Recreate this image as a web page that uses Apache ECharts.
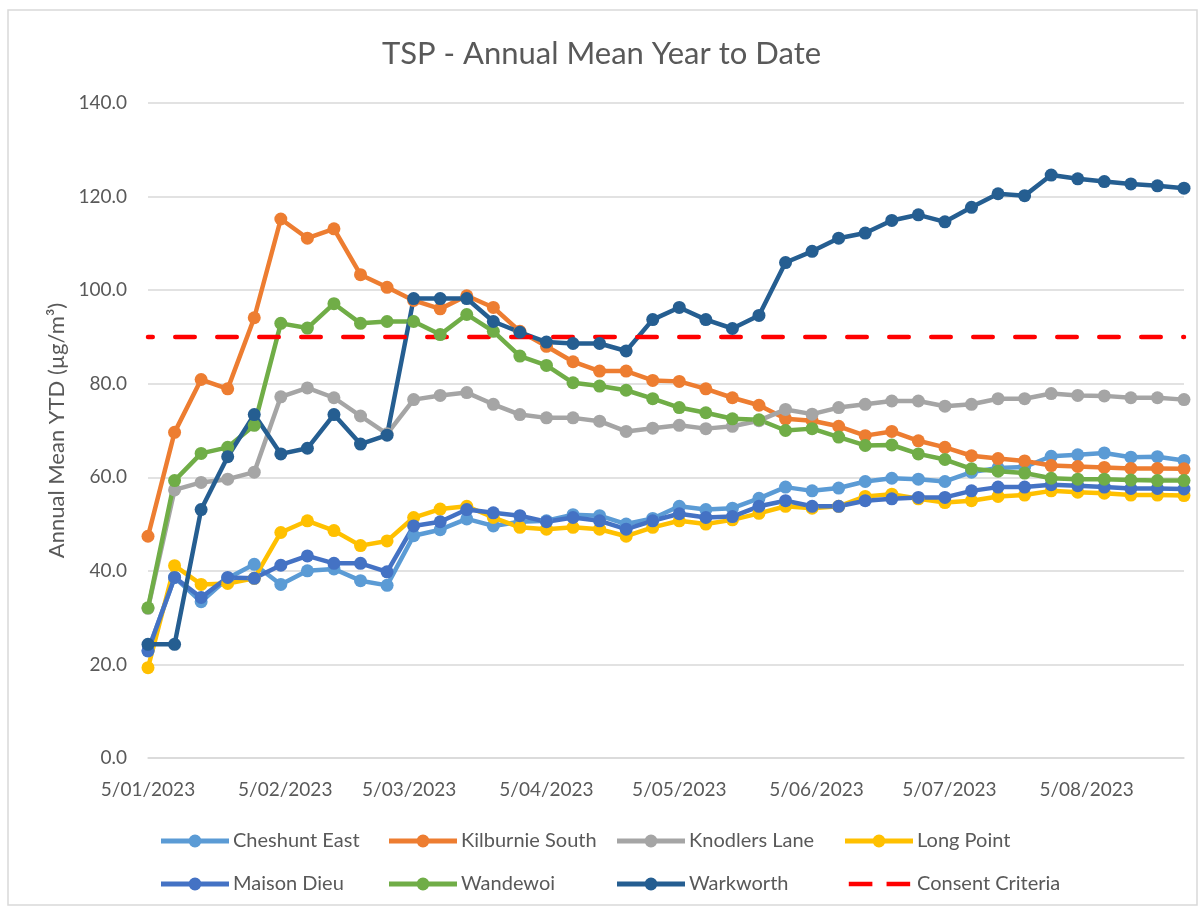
<!DOCTYPE html>
<html>
<head>
<meta charset="utf-8">
<script src="https://cdn.jsdelivr.net/npm/echarts@6/dist/echarts.min.js"></script>
<style>
  html, body { margin: 0; padding: 0; background: #ffffff; }
  #chart { width: 1203px; height: 910px; }
</style>
</head>
<body>
<div id="chart"></div>
<script>
const dates = [
  '2023-01-05','2023-01-11','2023-01-17','2023-01-23','2023-01-29',
  '2023-02-04','2023-02-10','2023-02-16','2023-02-22','2023-02-28',
  '2023-03-06','2023-03-12','2023-03-18','2023-03-24','2023-03-30',
  '2023-04-05','2023-04-11','2023-04-17','2023-04-23','2023-04-29',
  '2023-05-05','2023-05-11','2023-05-17','2023-05-23','2023-05-29',
  '2023-06-04','2023-06-10','2023-06-16','2023-06-22','2023-06-28',
  '2023-07-04','2023-07-10','2023-07-16','2023-07-22','2023-07-28',
  '2023-08-03','2023-08-09','2023-08-15','2023-08-21','2023-08-27'
];
const tickDates = ['2023-01-05','2023-02-05','2023-03-05','2023-04-05','2023-05-05','2023-06-05','2023-07-05','2023-08-05'];
const tickLabels = ['5/01/2023','5/02/2023','5/03/2023','5/04/2023','5/05/2023','5/06/2023','5/07/2023','5/08/2023'];
const axisStart = '2023-01-05';
const axisEnd = '2023-08-27';

const cheshuntEast = [22.9, 38.6, 33.4, 38.4, 41.4, 37.1, 40.0, 40.4, 37.9, 36.9, 47.5, 48.8, 51.1, 49.6, 50.5, 50.7, 52.0, 51.8, 50.0, 51.2, 53.8, 53.1, 53.4, 55.5, 57.9, 57.1, 57.7, 59.1, 59.8, 59.6, 59.1, 61.1, 62.0, 62.2, 64.5, 64.8, 65.2, 64.3, 64.4, 63.6];
const kilburnieSouth = [47.4, 69.6, 80.9, 78.9, 94.1, 115.2, 111.1, 113.1, 103.3, 100.6, 97.8, 96.0, 98.8, 96.3, 91.2, 88.0, 84.7, 82.7, 82.7, 80.7, 80.5, 78.9, 77.0, 75.4, 72.5, 72.1, 70.9, 68.9, 69.8, 67.8, 66.4, 64.6, 64.0, 63.5, 62.5, 62.3, 62.1, 61.9, 61.9, 61.8];
const knodlersLane = [32.0, 57.3, 58.9, 59.6, 61.1, 77.2, 79.1, 77.0, 73.1, 69.3, 76.6, 77.5, 78.1, 75.6, 73.4, 72.7, 72.7, 72.0, 69.8, 70.5, 71.1, 70.4, 70.9, 72.1, 74.5, 73.5, 74.9, 75.6, 76.3, 76.3, 75.2, 75.6, 76.8, 76.8, 77.9, 77.5, 77.4, 77.0, 77.0, 76.6];
const longPoint = [19.3, 41.1, 37.1, 37.3, 38.4, 48.2, 50.7, 48.6, 45.4, 46.4, 51.4, 53.2, 53.8, 51.4, 49.3, 48.9, 49.3, 48.9, 47.4, 49.3, 50.7, 50.0, 50.9, 52.3, 53.8, 53.4, 53.8, 55.9, 56.4, 55.4, 54.6, 55.0, 55.9, 56.2, 57.1, 56.8, 56.6, 56.2, 56.2, 56.1];
const maisonDieu = [22.9, 38.6, 34.3, 38.6, 38.4, 41.2, 43.2, 41.6, 41.6, 39.8, 49.6, 50.5, 53.1, 52.4, 51.8, 50.5, 51.4, 50.7, 48.9, 50.7, 52.2, 51.4, 51.6, 53.8, 55.0, 53.8, 53.8, 55.0, 55.4, 55.7, 55.7, 57.1, 57.9, 57.9, 58.4, 58.2, 57.9, 57.6, 57.6, 57.5];
const wandewoi = [32.1, 59.3, 65.1, 66.4, 71.1, 92.9, 91.9, 97.1, 92.9, 93.3, 93.3, 90.5, 94.8, 91.2, 85.9, 83.9, 80.2, 79.5, 78.6, 76.8, 74.9, 73.8, 72.5, 72.3, 70.0, 70.4, 68.6, 66.8, 66.9, 65.0, 63.8, 61.8, 61.3, 60.9, 59.8, 59.6, 59.6, 59.4, 59.3, 59.3];
const warkworth = [24.3, 24.3, 53.1, 64.4, 73.4, 65.0, 66.2, 73.4, 67.1, 69.0, 98.2, 98.2, 98.2, 93.3, 91.0, 88.9, 88.6, 88.6, 87.0, 93.7, 96.3, 93.7, 91.8, 94.6, 105.9, 108.3, 111.1, 112.2, 114.9, 116.1, 114.6, 117.7, 120.6, 120.2, 124.6, 123.8, 123.2, 122.7, 122.3, 121.8];
const consentCriteria = 90;

const yTicks = { min: 0, max: 140, interval: 20 };

function ts(s) { const p = s.split('-').map(Number); return Date.UTC(p[0], p[1] - 1, p[2]); }
const xs = dates.map(ts);
const tickTs = tickDates.map(ts);

const FONT = 'Lato, "Open Sans", sans-serif';
const TXT = '#595959';

function lineSeries(name, color, vals) {
  return {
    name: name, type: 'line',
    data: xs.map((x, i) => [x, vals[i]]),
    symbol: 'circle', symbolSize: 13,
    lineStyle: { color: color, width: 4.5 },
    itemStyle: { color: color },
    emphasis: { disabled: true },
    animation: false
  };
}

const series = [
  lineSeries('Cheshunt East', '#5B9BD5', cheshuntEast),
  lineSeries('Kilburnie South', '#ED7D31', kilburnieSouth),
  lineSeries('Knodlers Lane', '#A5A5A5', knodlersLane),
  lineSeries('Long Point', '#FFC000', longPoint),
  lineSeries('Maison Dieu', '#4472C4', maisonDieu),
  lineSeries('Wandewoi', '#70AD47', wandewoi),
  lineSeries('Warkworth', '#255E91', warkworth),
  {
    name: 'Consent Criteria', type: 'line',
    data: [[ts(axisStart), consentCriteria], [ts(axisEnd), consentCriteria]],
    showSymbol: false, symbol: 'none',
    lineStyle: { color: '#FF0000', width: 4.5, type: [19.5, 22.5], dashOffset: 14.75, cap: 'round' },
    itemStyle: { color: '#FF0000' },
    animation: false
  }
];

// legend icons (line with marker, and dashed line)
const markerIcon = 'path://M0,4.5 L31,4.5 L31,9.5 L0,9.5 Z M37,4.5 L68,4.5 L68,9.5 L37,9.5 Z M27.5,7 A6.5,6.5 0 1,1 40.5,7 A6.5,6.5 0 1,1 27.5,7 Z';
const dashIcon = 'path://M4,4.5 L29,4.5 L29,9.5 L4,9.5 Z M44,4.5 L69,4.5 L69,9.5 L44,9.5 Z M0,0 L0.01,0 Z M72,14 L72.01,14 Z';

const legendCols = [161, 389, 617, 845];
const legendRows = [831, 874];
const legendNames = [
  ['Cheshunt East', 'Kilburnie South', 'Knodlers Lane', 'Long Point'],
  ['Maison Dieu', 'Wandewoi', 'Warkworth', 'Consent Criteria']
];
const legends = [];
legendNames.forEach((row, r) => row.forEach((nm, c) => {
  legends.push({
    left: legendCols[c], top: legendRows[r], padding: 0,
    itemWidth: 68, itemHeight: 14, itemGap: 0,
    selectedMode: false,
    itemStyle: { borderWidth: 0 },
    textStyle: { fontFamily: FONT, fontSize: 20, color: TXT, padding: [0, 0, 0, -1] },
    data: [{ name: nm, icon: nm === 'Consent Criteria' ? dashIcon : markerIcon }]
  });
}));

const chart = echarts.init(document.getElementById('chart'), null, { renderer: 'canvas' });
chart.setOption({
  backgroundColor: '#ffffff',
  animation: false,
  title: {
    text: 'TSP - Annual Mean Year to Date',
    left: 'center', top: 33,
    textStyle: { fontFamily: FONT, fontSize: 31, fontWeight: 'normal', color: TXT }
  },
  graphic: [{
    type: 'rect', shape: { x: 8, y: 10, width: 1189, height: 895 },
    style: { fill: 'none', stroke: '#D9D9D9', lineWidth: 1.5 }, silent: true
  }],
  grid: { left: 148, right: 19, top: 103, bottom: 152, containLabel: false },
  legend: legends,
  xAxis: {
    type: 'value',
    min: ts(axisStart), max: ts(axisEnd),
    axisLine: { show: true, lineStyle: { color: '#D9D9D9', width: 1.5 } },
    axisTick: { show: false },
    splitLine: { show: false },
    axisLabel: {
      customValues: tickTs,
      formatter: function (v) { const i = tickTs.indexOf(v); return i >= 0 ? tickLabels[i] : ''; },
      fontFamily: FONT, fontSize: 19, color: TXT, margin: 22, hideOverlap: false
    }
  },
  yAxis: {
    type: 'value', min: yTicks.min, max: yTicks.max, interval: yTicks.interval,
    name: 'Annual Mean YTD (µg/m³)', nameLocation: 'middle', nameGap: 80, nameRotate: 90,
    nameTextStyle: { fontFamily: FONT, fontSize: 22, color: TXT },
    axisLine: { show: false }, axisTick: { show: false },
    splitLine: { lineStyle: { color: '#D9D9D9', width: 1.5 } },
    axisLabel: {
      formatter: function (v) { return v.toFixed(1); },
      fontFamily: FONT, fontSize: 19, color: TXT, margin: 21
    }
  },
  series: series
});
</script>
</body>
</html>
